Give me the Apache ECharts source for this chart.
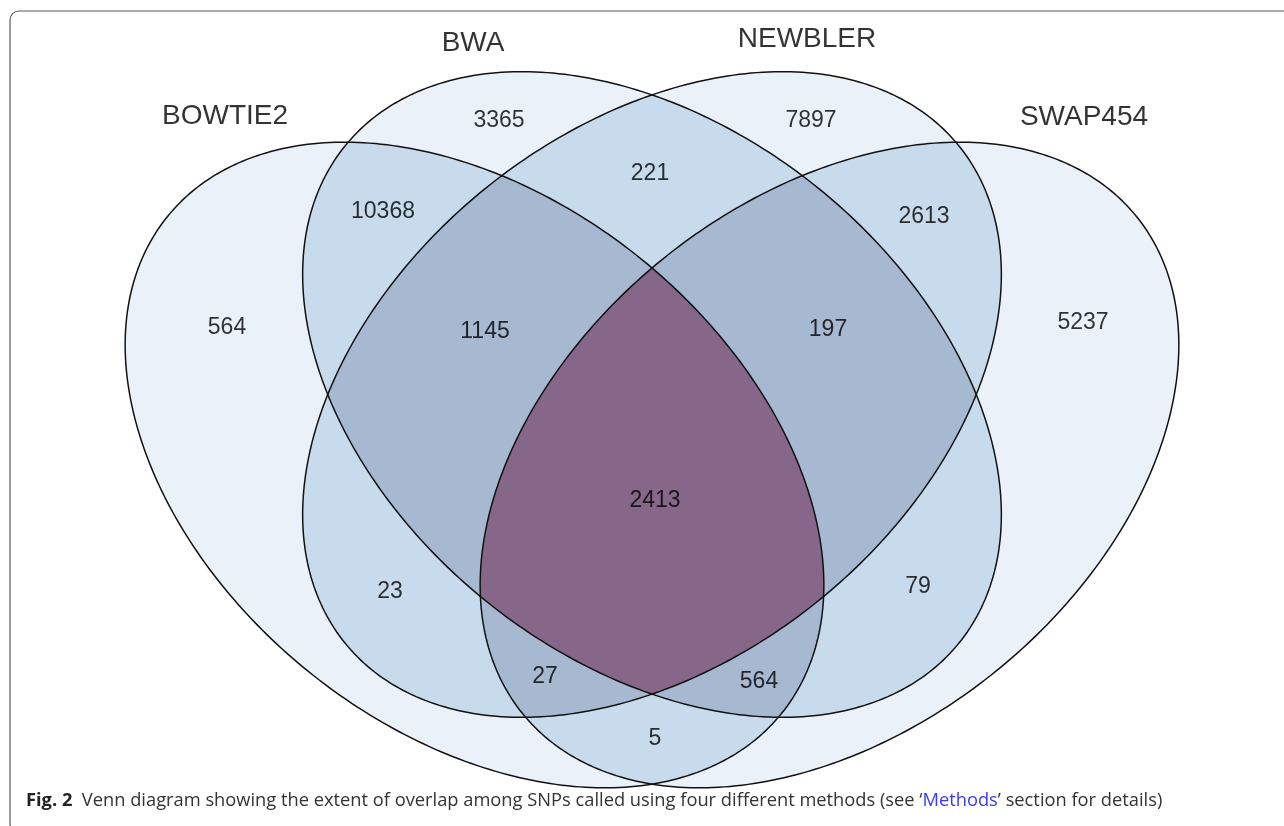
<!DOCTYPE html>
<html>
<head>
<meta charset="utf-8">
<title>SNP caller overlap</title>
<script src="https://cdn.jsdelivr.net/npm/echarts@6/dist/echarts.min.js"></script>
<style>
  html, body { margin: 0; padding: 0; background: #fff; }
  #chart { width: 1284px; height: 826px; }
</style>
</head>
<body>
<div id="chart"></div>
<script>
// the four SNP callers
const setNames = ['BOWTIE2', 'BWA', 'NEWBLER', 'SWAP454']

// SNP count of every region; regionSets says which callers (by index) share it
const regionSets = ['0', '1', '2', '3', '01', '12', '23', '02', '13', '03', '012', '123', '023', '013', '0123']
const regionCounts = [564, 3365, 7897, 5237, 10368, 221, 2613, 23, 79, 5, 1145, 197, 27, 564, 2413]

// diagram layout, in units of the hidden axes
const ellipseShapes = [
  {cx: 474.5, cy: 465, a: 395, b: 265, angle: 39},
  {cx: 652, cy: 394.5, a: 395, b: 265, angle: 39},
  {cx: 652, cy: 394.5, a: 395, b: 265, angle: -39},
  {cx: 829.5, cy: 465, a: 395, b: 265, angle: -39}
]
const setLabelAt = [[225, 116], [473, 43], [807, 39], [1084, 117]]
const regionLabelAt = [
  [227, 328], [499, 121], [811, 121], [1083, 323],
  [383, 212], [650, 174], [924, 217], [390, 592], [918, 587], [655, 739],
  [485, 332], [828, 330], [545, 677], [759, 682],
  [655, 501]
]
// fill by how many sets cover a spot
const shades = ['#eaf1f9', '#c8dbec', '#a7b8d1', '#86678a']

function ellipsePoints(e) {
  const pts = []
  const th = e.angle * Math.PI / 180
  for (let i = 0; i < 360; i++) {
    const t = i / 360 * Math.PI * 2
    const u = e.a * Math.cos(t), v = e.b * Math.sin(t)
    pts.push([e.cx + u * Math.cos(th) - v * Math.sin(th), e.cy + u * Math.sin(th) + v * Math.cos(th)])
  }
  return pts
}

function signedArea(poly) {
  let s = 0
  for (let i = 0; i < poly.length; i++) {
    const p = poly[i], q = poly[(i + 1) % poly.length]
    s += p[0] * q[1] - q[0] * p[1]
  }
  return s / 2
}

function lineHit(P, Q, A, B) {
  const d1x = Q[0] - P[0], d1y = Q[1] - P[1]
  const d2x = B[0] - A[0], d2y = B[1] - A[1]
  const den = d1x * d2y - d1y * d2x
  const t = ((A[0] - P[0]) * d2y - (A[1] - P[1]) * d2x) / den
  return [P[0] + t * d1x, P[1] + t * d1y]
}

// Sutherland-Hodgman, both polygons convex
function clipPoly(subject, clip) {
  const sg = signedArea(clip) > 0 ? 1 : -1
  let out = subject
  for (let i = 0; i < clip.length && out.length; i++) {
    const A = clip[i], B = clip[(i + 1) % clip.length]
    const inside = p => sg * ((B[0] - A[0]) * (p[1] - A[1]) - (B[1] - A[1]) * (p[0] - A[0])) >= 0
    const input = out
    out = []
    for (let j = 0; j < input.length; j++) {
      const P = input[j], Q = input[(j + 1) % input.length]
      const pin = inside(P), qin = inside(Q)
      if (pin) out.push(P)
      if (pin !== qin) out.push(lineHit(P, Q, A, B))
    }
  }
  return out
}

const ellipsePolys = ellipseShapes.map(ellipsePoints)

// every combination of sets -> its common area, painted from 1 set up to 4
const layers = []
for (let level = 1; level <= 4; level++) {
  for (let mask = 1; mask < 16; mask++) {
    const idx = [0, 1, 2, 3].filter(k => mask & (1 << k))
    if (idx.length !== level) continue
    let poly = ellipsePolys[idx[0]]
    for (let k = 1; k < idx.length; k++) poly = clipPoly(poly, ellipsePolys[idx[k]])
    layers.push({level: level, poly: poly})
  }
}

const chart = echarts.init(document.getElementById('chart'), null, {renderer: 'canvas'})

chart.setOption({
  animation: false,
  backgroundColor: '#fff',
  title: {
    text: '{b|Fig. 2}  Venn diagram showing the extent of overlap among SNPs called using four different methods (see ‘{m|Methods}’ section for details)',
    left: 26,
    top: 792,
    padding: 0,
    textStyle: {
      fontFamily: 'Open Sans',
      fontSize: 18.3,
      fontWeight: 'normal',
      color: '#333',
      rich: {
        b: {fontFamily: 'Open Sans', fontSize: 18.3, fontWeight: 'bold', color: '#222'},
        m: {fontFamily: 'Open Sans', fontSize: 18.3, color: '#3a3af2'}
      }
    }
  },
  graphic: [{
    type: 'rect',
    silent: true,
    shape: {x: 10, y: 11, width: 1300, height: 822, r: 9},
    style: {fill: 'none', stroke: '#5a5a5a', lineWidth: 1.2}
  }],
  grid: {left: 0, right: 0, top: 0, bottom: 0},
  xAxis: {type: 'value', min: 0, max: 1284, show: false},
  yAxis: {type: 'value', min: 0, max: 826, inverse: true, show: false},
  series: [
    {
      name: 'areas',
      type: 'custom',
      silent: true,
      data: layers.map((l, i) => [i]),
      renderItem: function (params, api) {
        const layer = layers[params.dataIndex]
        return {
          type: 'polygon',
          shape: {points: layer.poly.map(p => api.coord(p))},
          style: {fill: shades[layer.level - 1]}
        }
      }
    },
    {
      name: 'outlines',
      type: 'custom',
      silent: true,
      data: ellipsePolys.map((p, i) => [i]),
      renderItem: function (params, api) {
        return {
          type: 'polygon',
          shape: {points: ellipsePolys[params.dataIndex].map(p => api.coord(p))},
          style: {fill: 'none', stroke: '#111', lineWidth: 1.5}
        }
      }
    },
    {
      name: 'counts',
      type: 'scatter',
      silent: true,
      symbolSize: 1,
      itemStyle: {color: 'transparent'},
      data: regionCounts.map((c, i) => [regionLabelAt[i][0], regionLabelAt[i][1], c, regionSets[i]]),
      label: {
        show: true,
        position: 'inside',
        formatter: p => String(p.value[2]),
        fontFamily: 'Liberation Sans',
        fontSize: 23,
        color: '#000',
        textBorderWidth: 0
      }
    },
    {
      name: 'sets',
      type: 'scatter',
      silent: true,
      symbolSize: 1,
      itemStyle: {color: 'transparent'},
      data: setNames.map((n, i) => [setLabelAt[i][0], setLabelAt[i][1], n]),
      label: {
        show: true,
        position: 'inside',
        formatter: p => p.value[2],
        fontFamily: 'Liberation Sans',
        fontSize: 28,
        color: '#000',
        textBorderWidth: 0
      }
    }
  ]
})
</script>
</body>
</html>
